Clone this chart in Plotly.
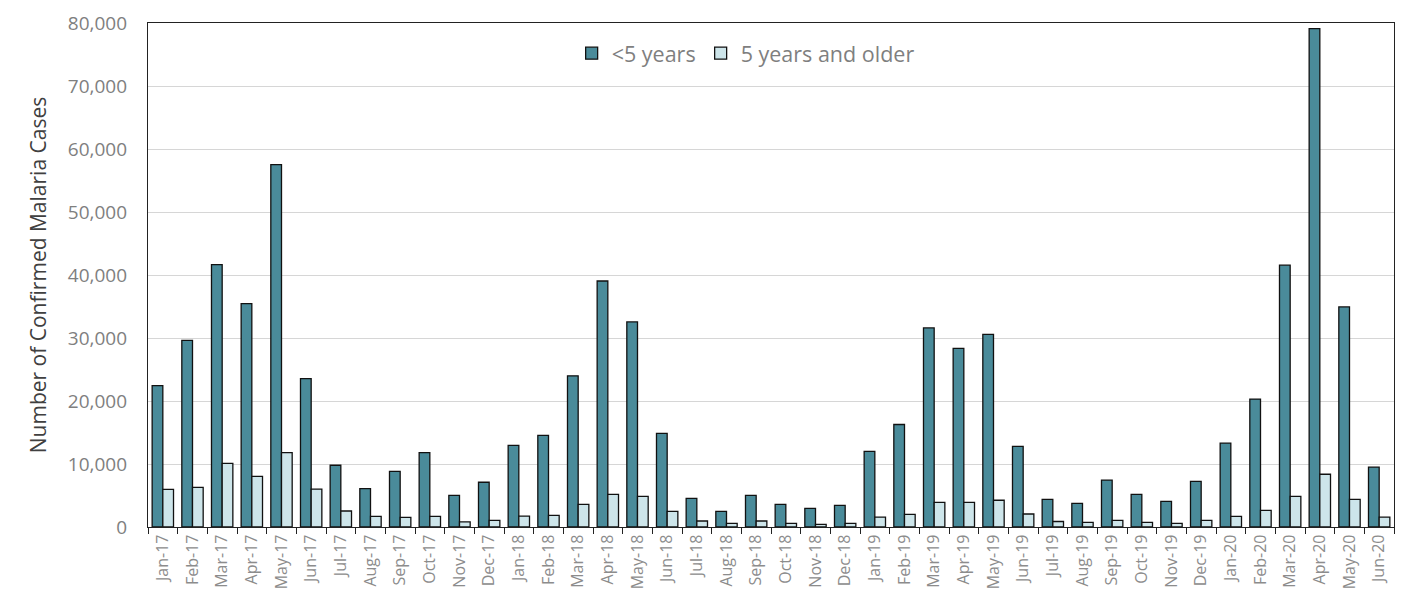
import plotly.graph_objects as go

months = ["Jan-17", "Feb-17", "Mar-17", "Apr-17", "May-17", "Jun-17", "Jul-17", "Aug-17", "Sep-17", "Oct-17", "Nov-17", "Dec-17",
          "Jan-18", "Feb-18", "Mar-18", "Apr-18", "May-18", "Jun-18", "Jul-18", "Aug-18", "Sep-18", "Oct-18", "Nov-18", "Dec-18",
          "Jan-19", "Feb-19", "Mar-19", "Apr-19", "May-19", "Jun-19", "Jul-19", "Aug-19", "Sep-19", "Oct-19", "Nov-19", "Dec-19",
          "Jan-20", "Feb-20", "Mar-20", "Apr-20", "May-20", "Jun-20"]

under5 = [22450, 29630, 41650, 35460, 57520, 23550, 9800, 6100, 8840, 11800, 5030, 7100,
          12950, 14530, 23990, 39050, 32550, 14850, 4550, 2490, 5020, 3600, 2960, 3440,
          12000, 16270, 31600, 28350, 30560, 12810, 4380, 3750, 7440, 5190, 4060, 7250,
          13310, 20310, 41560, 79120, 34940, 9500]

over5 = [5980, 6300, 10100, 8050, 11800, 6000, 2540, 1700, 1540, 1700, 800, 1060,
         1740, 1850, 3600, 5180, 4870, 2490, 950, 590, 950, 590, 430, 590,
         1580, 2010, 3910, 3920, 4250, 2060, 875, 750, 1060, 750, 560, 1060,
         1690, 2630, 4875, 8375, 4375, 1560]

fig = go.Figure()
fig.add_trace(go.Bar(x=months, y=under5, name="<5 years",
                     marker=dict(color="#4A8B9A", line=dict(color="#111111", width=1.3))))
fig.add_trace(go.Bar(x=months, y=over5, name="5 years and older",
                     marker=dict(color="#CDE5EA", line=dict(color="#111111", width=1.3))))

# page body adds an 8px offset, margins compensate for it
fig.update_layout(
    width=1417, height=616,
    margin=dict(l=140, r=31, t=15, b=97, autoexpand=False),
    plot_bgcolor="white", paper_bgcolor="white",
    barmode="group", bargap=0.28, bargroupgap=0,
    font=dict(family="Open Sans", color="#7F7F7F"),
    legend=dict(orientation="h", x=0.340, xanchor="left", y=0.94, yanchor="middle",
                font=dict(size=21.5, color="#7F7F7F"), itemwidth=30, traceorder="normal",
                bgcolor="rgba(0,0,0,0)"),
)
fig.update_xaxes(
    type="category", tickangle=-90, tickfont=dict(size=16, color="#8C8C8C"),
    showline=True, linecolor="#222222", linewidth=1.3, mirror=True,
    ticks="outside", tickson="boundaries", ticklen=6, tickcolor="#222222", tickwidth=1.3,
    showgrid=False, automargin=False,
)
fig.update_yaxes(
    range=[0, 80000], dtick=10000, tickformat=",", tickfont=dict(size=19, color="#7F7F7F"),
    showline=True, linecolor="#222222", linewidth=1.3, mirror=True,
    showgrid=True, gridcolor="#D6D6D6", gridwidth=1.2, zeroline=False,
    ticks="", ticklabelstandoff=16, automargin=False,
    title=dict(text="Number of Confirmed Malaria Cases", font=dict(size=21, color="#404040"), standoff=15),
)

fig.write_html("out.html")
